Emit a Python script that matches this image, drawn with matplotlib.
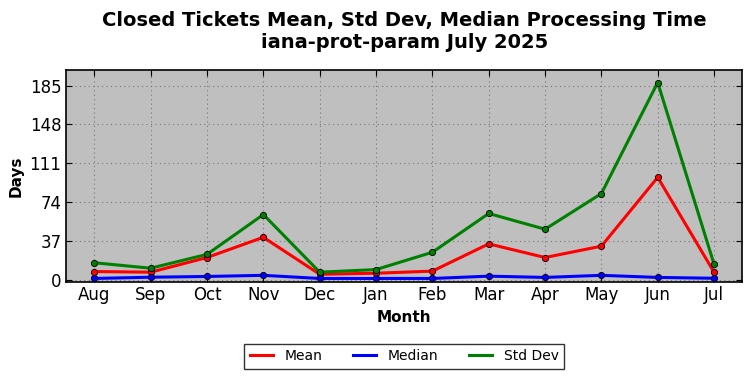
import matplotlib
matplotlib.use("Agg")
import matplotlib.pyplot as plt
from matplotlib.lines import Line2D

months = ["Aug", "Sep", "Oct", "Nov", "Dec", "Jan", "Feb", "Mar", "Apr", "May", "Jun", "Jul"]
mean_days = [7.6, 7.0, 21, 40.3, 5, 6, 8, 34, 21, 31.8, 97.5, 7]
median_days = [1, 2.2, 2.9, 4, 1, 1, 1, 3.2, 2, 4, 2, 1.2]
std_days = [16, 10.8, 24, 62, 7, 9.5, 26, 63, 48, 82, 188, 14.6]
yticks = [0, 37, 74, 111, 148, 185]

fig, ax = plt.subplots(figsize=(7.52, 3.78), dpi=100)
fig.subplots_adjust(left=0.088, right=0.987, top=0.815, bottom=0.255)
ax.set_facecolor("#bfbfbf")

x = range(len(months))
series = [(mean_days, "red", "Mean"), (median_days, "blue", "Median"), (std_days, "green", "Std Dev")]
for vals, color, label in series:
    ax.plot(x, vals, color=color, lw=2.2, marker="o", ms=4.5,
            markeredgecolor="black", markeredgewidth=0.6)

ax.set_xticks(list(x))
ax.set_xticklabels(months, fontsize=12)
ax.set_yticks(yticks)
ax.tick_params(axis="y", labelsize=12)
ax.tick_params(direction="in", top=True, right=True, length=4)
ax.set_xlim(-0.5, 11.5)
ax.set_ylim(-2, 200)
ax.grid(True, linestyle=(0, (1, 3)), color="#777777", lw=0.8)
for s in ax.spines.values():
    s.set_linewidth(1.2)

ax.set_xlabel("Month", fontsize=11, fontweight="bold")
ax.set_ylabel("Days", fontsize=11, fontweight="bold")
ax.set_title("Closed Tickets Mean, Std Dev, Median Processing Time\niana-prot-param July 2025",
             fontsize=14, fontweight="bold", pad=16)

handles = [Line2D([0], [0], color=c, lw=2.2, label=l) for _, c, l in series]
leg = ax.legend(handles=handles, loc="upper center", bbox_to_anchor=(0.5, -0.26), ncol=3,
                fontsize=10, frameon=True, fancybox=False, edgecolor="black",
                handlelength=1.65, handletextpad=0.85, columnspacing=2.2, borderpad=0.4)
leg.get_frame().set_linewidth(1.0)

fig.savefig("out.png", dpi=100)
